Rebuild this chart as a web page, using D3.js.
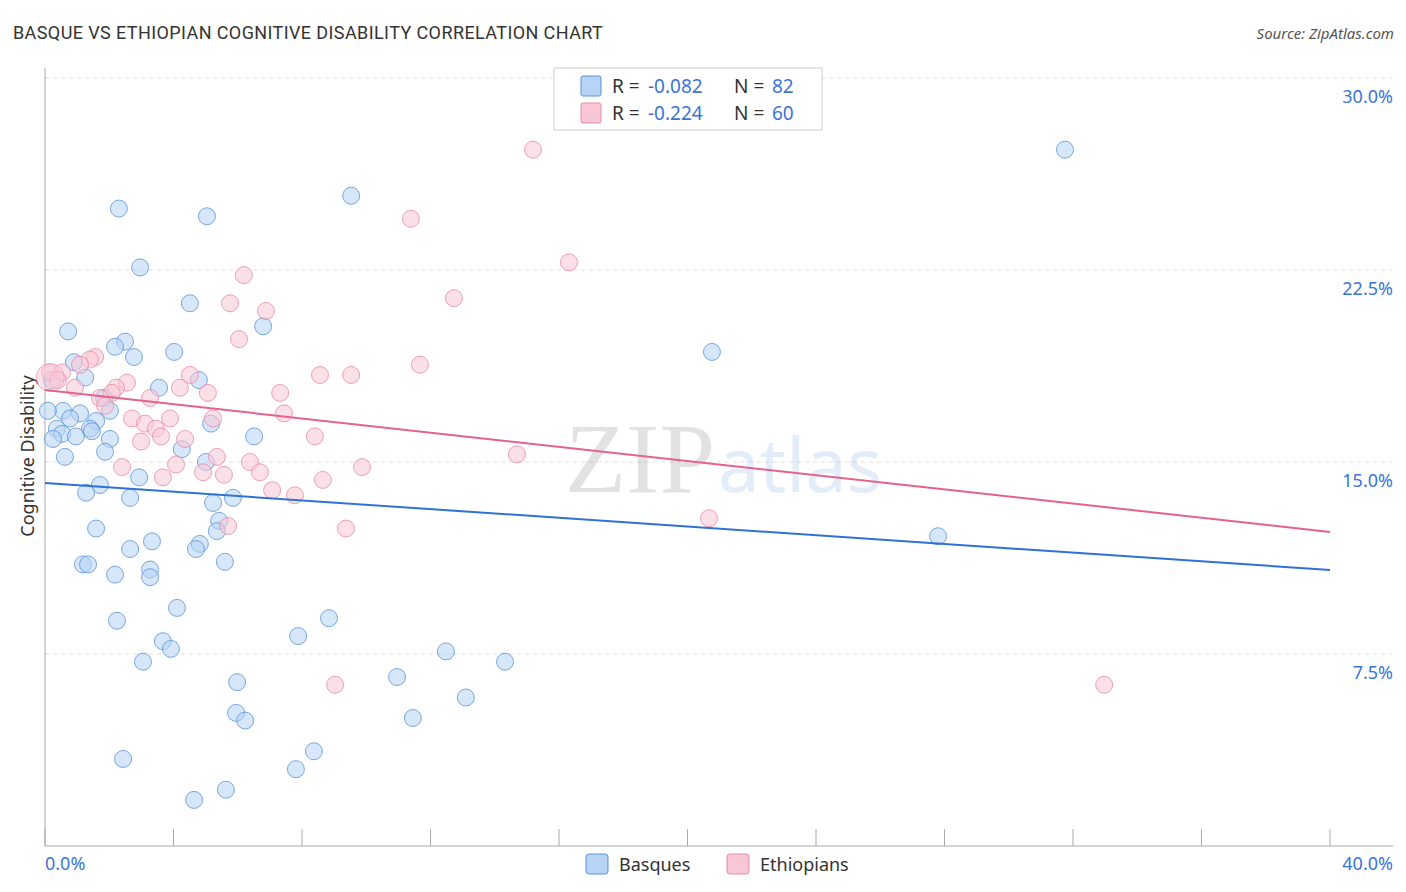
<!DOCTYPE html><html><head><meta charset="utf-8"><script src="https://cdn.jsdelivr.net/npm/d3@7"></script>
<style>body{margin:0;background:#fff;font-family:"Noto Sans",sans-serif}</style></head><body><svg id="c" width="1406" height="892"></svg>
<script>
const basques=[[31.75,27.2],[9.53,25.4],[2.30,24.9],[5.04,24.6],[2.96,22.6],[4.51,21.2],[6.79,20.3],[0.72,20.1],[2.49,19.7],[2.18,19.5],[4.02,19.3],[20.76,19.3],[2.77,19.1],[0.90,18.9],[1.25,18.3],[4.79,18.2],[3.55,17.9],[0.22,18.2],[1.84,17.5],[2.02,17.0],[0.56,17.0],[1.09,16.9],[0.09,17.0],[0.78,16.7],[1.59,16.6],[5.17,16.5],[0.37,16.3],[1.40,16.3],[1.46,16.2],[0.53,16.1],[0.96,16.0],[6.51,16.0],[0.25,15.9],[2.02,15.9],[4.26,15.5],[1.87,15.4],[0.62,15.2],[5.01,15.0],[2.93,14.4],[1.71,14.1],[1.28,13.8],[2.65,13.6],[5.85,13.6],[5.23,13.4],[5.42,12.7],[1.59,12.4],[5.35,12.3],[27.8,12.1],[3.33,11.9],[4.82,11.8],[2.65,11.6],[4.70,11.6],[1.18,11.0],[1.34,11.0],[5.60,11.1],[2.18,10.6],[3.27,10.8],[3.27,10.5],[4.11,9.3],[8.84,8.9],[2.24,8.8],[7.88,8.2],[3.67,8.0],[3.92,7.7],[12.48,7.6],[3.05,7.2],[14.32,7.2],[5.98,6.4],[10.96,6.6],[13.10,5.8],[5.95,5.2],[6.23,4.9],[11.45,5.0],[8.37,3.7],[2.43,3.4],[7.81,3.0],[5.63,2.2],[4.64,1.8]];
const ethiopians=[[15.19,27.2],[11.39,24.5],[16.31,22.8],[6.19,22.3],[12.73,21.4],[5.76,21.2],[6.88,20.9],[6.04,19.8],[1.56,19.1],[1.40,19.0],[11.67,18.8],[1.09,18.8],[0.16,18.5],[0.53,18.5],[8.56,18.4],[9.53,18.4],[4.51,18.4],[0.40,18.2],[2.55,18.1],[0.93,17.9],[2.21,17.9],[4.20,17.9],[5.07,17.7],[7.32,17.7],[2.08,17.7],[3.27,17.5],[1.71,17.5],[1.87,17.2],[7.44,16.9],[5.23,16.7],[2.71,16.7],[3.89,16.7],[3.11,16.5],[3.45,16.3],[4.36,15.9],[8.40,16.0],[3.61,16.0],[2.99,15.8],[5.35,15.2],[14.69,15.3],[6.38,15.0],[4.08,14.9],[2.40,14.8],[9.87,14.8],[6.69,14.6],[4.92,14.6],[5.57,14.5],[3.67,14.4],[8.65,14.3],[7.07,13.9],[7.78,13.7],[5.70,12.5],[9.37,12.4],[20.67,12.8],[9.03,6.3],[32.97,6.3]];
const blueTrend=[[0,14.18],[40,10.78]];
const pinkTrend=[[0,17.81],[40,12.27]];
const yTicks=[7.5,15,22.5,30];
const legendRows=[{r:"-0.082",n:"82",fill:"#b7d3f5",stroke:"#5a93d8"},{r:"-0.224",n:"60",fill:"#f9c6d6",stroke:"#e88aa8"}];
const svg=d3.select("#c");
const x=d3.scaleLinear().domain([0,40]).range([45,1330]);
const y=d3.scaleLinear().domain([0,30]).range([846,78]);
svg.append("text").attr("x",13).attr("y",39).attr("font-size",18).attr("font-family","Roboto,sans-serif").attr("letter-spacing",0.4).attr("fill","#333").text("BASQUE VS ETHIOPIAN COGNITIVE DISABILITY CORRELATION CHART");
svg.append("text").attr("x",1394).attr("y",39).attr("text-anchor","end").attr("font-size",15).attr("font-style","italic").attr("fill","#555").text("Source: ZipAtlas.com");
yTicks.forEach(t=>{svg.append("line").attr("x1",45).attr("x2",1393).attr("y1",y(t)).attr("y2",y(t)).attr("stroke","#ddd").attr("stroke-dasharray","4,4");
svg.append("text").attr("x",1393).attr("y",y(t)+25).attr("text-anchor","end").attr("font-size",18).attr("fill","#3a75d6").text(t.toFixed(1)+"%");});
svg.append("line").attr("x1",45).attr("x2",45).attr("y1",68).attr("y2",846).attr("stroke","#aaa");
svg.append("line").attr("x1",45).attr("x2",1393).attr("y1",846).attr("y2",846).attr("stroke","#aaa");
d3.range(0,41,4).forEach(t=>svg.append("line").attr("x1",x(t)).attr("x2",x(t)).attr("y1",829).attr("y2",846).attr("stroke","#aaa"));
svg.append("text").attr("x",45).attr("y",870).attr("font-size",18).attr("fill","#3a75d6").text("0.0%");
svg.append("text").attr("x",1393).attr("y",870).attr("text-anchor","end").attr("font-size",18).attr("fill","#3a75d6").text("40.0%");
svg.append("text").attr("transform","translate(34,456) rotate(-90)").attr("text-anchor","middle").attr("font-size",18).attr("fill","#333").text("Cognitive Disability");
svg.append("text").attr("x",715).attr("y",492).attr("text-anchor","end").attr("font-size",100).attr("font-family","Liberation Serif,serif").attr("fill","#000").attr("opacity",0.11).text("ZIP");
svg.append("text").attr("x",718).attr("y",492).attr("font-size",74).attr("fill","#4a86d8").attr("opacity",0.15).text("atlas");
function dots(d,f,s){svg.append("g").selectAll("circle").data(d).join("circle").attr("cx",p=>x(p[0])).attr("cy",p=>y(p[1])).attr("r",8.5).attr("fill",f).attr("fill-opacity",0.55).attr("stroke",s).attr("stroke-opacity",0.8);}
dots(basques,"#b7d3f5","#5a93d8");
dots(ethiopians,"#f9c6d6","#e88aa8");
svg.append("circle").attr("cx",x(0.16)).attr("cy",y(18.3)).attr("r",14).attr("fill","#f9c6d6").attr("fill-opacity",0.5).attr("stroke","#e88aa8").attr("stroke-opacity",0.6);
const ln=d3.line().x(p=>x(p[0])).y(p=>y(p[1]));
svg.append("path").attr("d",ln(blueTrend)).attr("stroke","#2f72d6").attr("stroke-width",2).attr("fill","none");
svg.append("path").attr("d",ln(pinkTrend)).attr("stroke","#e4628c").attr("stroke-width",2).attr("fill","none");
const lg=svg.append("g");
lg.append("rect").attr("x",554).attr("y",68).attr("width",268).attr("height",62).attr("fill","#fff").attr("stroke","#ccc");
legendRows.forEach((r,i)=>{const yy=86+i*27;
lg.append("rect").attr("x",581).attr("y",yy-10).attr("width",20).attr("height",20).attr("rx",2).attr("fill",r.fill).attr("stroke",r.stroke);
lg.append("text").attr("x",612).attr("y",yy+7).attr("font-size",19).attr("fill","#333").text("R =");
lg.append("text").attr("x",648).attr("y",yy+7).attr("font-size",19).attr("fill","#3a75d6").text(r.r);
lg.append("text").attr("x",734).attr("y",yy+7).attr("font-size",19).attr("fill","#333").text("N =");
lg.append("text").attr("x",772).attr("y",yy+7).attr("font-size",19).attr("fill","#3a75d6").text(r.n);});
[{l:"Basques",i:0,x:586},{l:"Ethiopians",i:1,x:727}].forEach(o=>{
svg.append("rect").attr("x",o.x).attr("y",854).attr("width",22).attr("height",20).attr("rx",3).attr("fill",legendRows[o.i].fill).attr("stroke",legendRows[o.i].stroke);
svg.append("text").attr("x",o.x+33).attr("y",871).attr("font-size",18).attr("fill","#333").text(o.l);});
</script></body></html>
